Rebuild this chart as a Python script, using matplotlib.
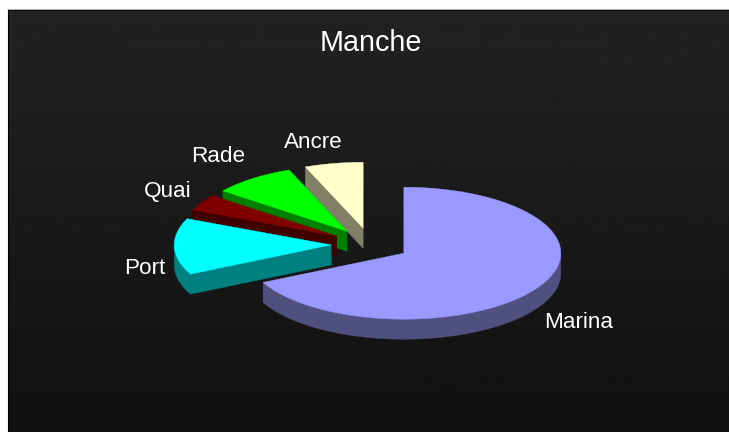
#!/usr/bin/env python3
# -*- coding: utf-8 -*-
"""Exploded 3D style pie chart, drawn with plain polygons."""

import numpy as np
import matplotlib
matplotlib.use("Agg")
import matplotlib.pyplot as plt
from matplotlib.patches import Polygon

plt.rcParams["font.family"] = ["Liberation Sans", "DejaVu Sans"]

# Data (share of the pie, clockwise from 12 o'clock)
labels = ["Marina", "Port", "Quai", "Rade", "Ancre"]
values = [67.7, 13.8, 4.0, 8.5, 6.0]
top_colors = ["#9999FF", "#00FFFF", "#800000", "#00FF00", "#FFFFCC"]
side_colors = ["#50507F", "#008080", "#400000", "#008000", "#808066"]

# Projection of the pie on the picture, in pixels
CX, CY = 370.5, 244.5
RX, RY = 157, 66
DEPTH = 20
EXPLODE = 0.25
label_xy = [(579, 323), (145, 269), (168, 192), (218, 157), (313, 143)]


def rim(cx, cy, theta, drop=0):
    """Point on the ellipse, theta in degrees clockwise from the top"""
    t = np.radians(theta)
    return np.column_stack([cx + RX * np.sin(t), cy - RY * np.cos(t) + drop])


fig = plt.figure(figsize=(7.29, 4.32), dpi=100, facecolor="white")
ax = fig.add_axes([0, 0, 1, 1])
ax.set_xlim(0, 729)
ax.set_ylim(432, 0)
ax.axis("off")

# Background
grad = np.linspace(0.135, 0.065, 256).reshape(-1, 1)
ax.imshow(grad, cmap="gray", vmin=0, vmax=1, aspect="auto", extent=(9, 729, 432, 10), zorder=0)
ax.plot([8.5, 8.5], [9, 432], color="black", lw=0.8, zorder=1)
ax.plot([8, 729], [9.5, 9.5], color="black", lw=0.8, zorder=1)
ax.plot([8, 729], [8.5, 8.5], color="#B0B0B0", lw=0.8, zorder=1)
ax.set_xlim(0, 729)
ax.set_ylim(432, 0)

# Wedge angles
shares = np.array(values) / sum(values) * 360
starts = np.concatenate([[0], np.cumsum(shares)[:-1]])

# Back slices first, Marina last
for i in [4, 3, 2, 1, 0]:
    a0, a1 = starts[i], starts[i] + shares[i]
    mid = np.radians((a0 + a1) / 2)
    cx = CX + EXPLODE * RX * np.sin(mid)
    cy = CY - EXPLODE * RY * np.cos(mid)
    apex = np.array([[cx, cy]])
    z = 3 + (4 - i)

    # outer wall, only the part facing the viewer
    w0, w1 = max(a0, 90), min(a1, 270)
    if w1 > w0:
        th = np.linspace(w0, w1, 120)
        wall = np.vstack([rim(cx, cy, th), rim(cx, cy, th[::-1], DEPTH)])
        ax.add_patch(Polygon(wall, closed=True, fc=side_colors[i], ec=side_colors[i], lw=0.3, zorder=z))

    # cut faces
    if i != 0:
        p = rim(cx, cy, [a0])
        face = np.vstack([apex, p, p + [0, DEPTH], apex + [0, DEPTH]])
        ax.add_patch(Polygon(face, closed=True, fc=side_colors[i], ec=side_colors[i], lw=0.3, zorder=z))

    # top
    th = np.linspace(a0, a1, 200)
    top = np.vstack([apex, rim(cx, cy, th)])
    ax.add_patch(Polygon(top, closed=True, fc=top_colors[i], ec=top_colors[i], lw=0.3, zorder=z))

# Text
ax.text(371, 43, "Manche", color="white", fontsize=20.7, ha="center", va="center", zorder=20)
for name, (x, y) in zip(labels, label_xy):
    ax.text(x, y, name, color="white", fontsize=16.2, ha="center", va="center", zorder=20)

fig.savefig("out.png", dpi=100, facecolor="white")
